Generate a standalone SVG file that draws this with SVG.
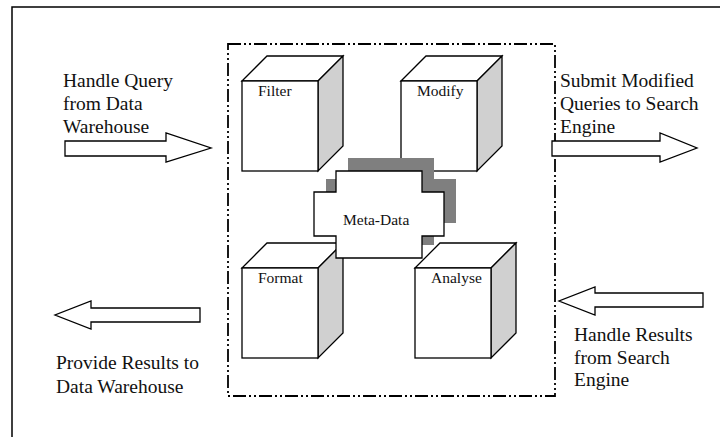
<svg xmlns="http://www.w3.org/2000/svg" width="720" height="437" viewBox="0 0 720 437">
  <style>
    .frame { fill: none; stroke: #000; stroke-width: 1.5; }
    .boundary { fill: none; stroke: #000; stroke-width: 1.8; stroke-dasharray: 13 3 2 3 2 3; }
    .face { fill: #fff; stroke: #000; stroke-width: 1.3; stroke-linejoin: miter; }
    .side { fill: #d0d0d0; stroke: #000; stroke-width: 1.3; stroke-linejoin: miter; }
    .shadow { fill: #7f7f7f; stroke: none; }
    .meta { fill: #fff; stroke: #000; stroke-width: 1.3; }
    .arrow { fill: #fff; stroke: #000; stroke-width: 1.3; stroke-linejoin: miter; }
    .lbl { font-family: "Liberation Serif", "Times New Roman", serif; font-size: 15.5px; fill: #111; }
    .note { font-family: "Liberation Serif", "Times New Roman", serif; font-size: 19.5px; fill: #111; }
  </style>
  <defs>
    <!-- unit cube: front face 76x90, depth offset (25,-25) -->
    <g id="cube">
      <polygon class="face" points="0,0 25,-25 101,-25 76,0"/>
      <polygon class="side" points="76,0 101,-25 101,65 76,90"/>
      <rect class="face" x="0" y="0" width="76" height="90"/>
    </g>
    <!-- stepped cross outline used for the meta-data store -->
    <polygon id="cross" points="336,171 422,171 422,192 444,192 444,236 422,236 422,258 336,258 336,236 314,236 314,192 336,192"/>
  </defs>

  <!-- page frame -->
  <path class="frame" d="M12,437 V7 H720"/>

  <!-- system boundary -->
  <rect class="boundary" x="228" y="44" width="327" height="352"/>

  <g id="filter">
    <use href="#cube" x="242" y="81"/>
    <text class="lbl" x="258" y="96">Filter</text>
  </g>
  <g id="modify">
    <use href="#cube" x="401" y="81"/>
    <text class="lbl" x="417" y="96">Modify</text>
  </g>
  <g id="format">
    <use href="#cube" x="242" y="268"/>
    <text class="lbl" x="258" y="283">Format</text>
  </g>
  <g id="analyse">
    <use href="#cube" x="415" y="268"/>
    <text class="lbl" x="431" y="283">Analyse</text>
  </g>

  <g id="meta-data">
    <use href="#cross" class="shadow" transform="translate(12,-13)"/>
    <use href="#cross" class="meta"/>
    <text class="lbl" x="343" y="225">Meta-Data</text>
  </g>

  <g id="connectors">
    <!-- incoming query -->
    <polygon class="arrow" points="65,141 166,141 166,133 211,148 166,162 166,156 65,156"/>
    <!-- outgoing modified queries -->
    <polygon class="arrow" points="552,141 660,141 660,133 697,148 660,162 660,156 552,156"/>
    <!-- results back to warehouse -->
    <polygon class="arrow" points="200,308 91,308 91,301 55,315 91,329 91,322 200,322"/>
    <!-- results from search engine -->
    <polygon class="arrow" points="703,293 595,293 595,287 559,301 595,315 595,307 703,307"/>
  </g>

  <g id="captions">
    <text class="note" x="63" y="87">Handle Query</text>
    <text class="note" x="63" y="110">from Data</text>
    <text class="note" x="63" y="133">Warehouse</text>

    <text class="note" x="560" y="87">Submit Modified</text>
    <text class="note" x="560" y="110">Queries to Search</text>
    <text class="note" x="560" y="133">Engine</text>

    <text class="note" x="56" y="369">Provide Results to</text>
    <text class="note" x="56" y="393">Data Warehouse</text>

    <text class="note" x="574" y="341">Handle Results</text>
    <text class="note" x="574" y="364">from Search</text>
    <text class="note" x="574" y="386">Engine</text>
  </g>
</svg>
